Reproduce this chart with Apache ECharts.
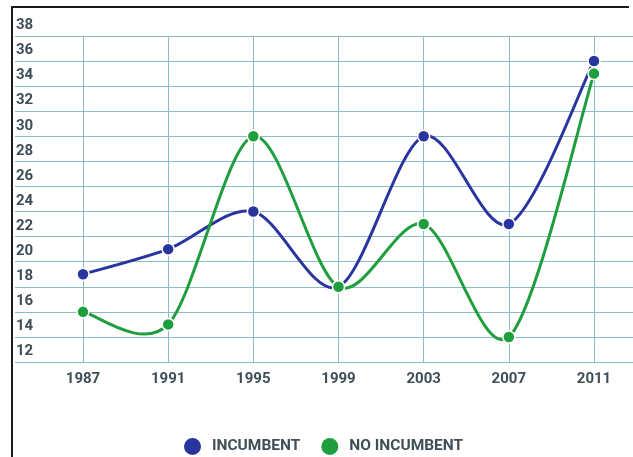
<!DOCTYPE html>
<html>
<head>
<meta charset="utf-8">
<script src="https://cdn.jsdelivr.net/npm/echarts@6/dist/echarts.min.js"></script>
<style>
html,body{margin:0;padding:0;background:#fff;}
#chart{width:633px;height:457px;}
</style>
</head>
<body>
<div id="chart"></div>
<script>
var years = ['1987', '1991', '1995', '1999', '2003', '2007', '2011'];
var incumbent = [19, 21, 24, 18, 30, 23, 36];
var noIncumbent = [16, 15, 30, 18, 23, 14, 35];
var yMin = 12, yMax = 38, yStep = 2;

var chart = echarts.init(document.getElementById('chart'), null, {renderer: 'canvas'});
var gridColor = '#8db9cc';
var textColor = '#3f4e57';
var blue = '#28359e';
var green = '#1f9e3e';

function curveSeries(name, values, color) {
  var n = values.length;
  return {
    name: name, type: 'custom', xAxisIndex: 1, yAxisIndex: 1, z: 2,
    data: values.map(function (v, i) { return [i, v]; }),
    renderItem: function (params, api) {
      var i = params.dataIndexInside;
      if (i >= n - 1) return null;
      function pt(k) {
        k = Math.max(0, Math.min(n - 1, k));
        return api.coord([api.value(0, k), api.value(1, k)]);
      }
      var p0 = pt(i - 1), p1 = pt(i), p2 = pt(i + 1), p3 = pt(i + 2);
      var t = 6.5;
      return {
        type: 'bezierCurve',
        shape: {
          x1: p1[0], y1: p1[1], x2: p2[0], y2: p2[1],
          cpx1: p1[0] + (p2[0] - p0[0]) / t, cpy1: p1[1] + (p2[1] - p0[1]) / t,
          cpx2: p2[0] - (p3[0] - p1[0]) / t, cpy2: p2[1] - (p3[1] - p1[1]) / t
        },
        style: {stroke: color, lineWidth: 3, fill: null}
      };
    }
  };
}

chart.setOption({
  backgroundColor: '#ffffff',
  animation: false,
  graphic: [
    {type: 'line', shape: {x1: 12, y1: 7, x2: 629, y2: 7}, style: {stroke: '#1a1a1a', lineWidth: 2}},
    {type: 'line', shape: {x1: 12, y1: 6, x2: 12, y2: 457}, style: {stroke: '#1a1a1a', lineWidth: 2}}
  ],
  grid: [
    {left: 15, right: 0, top: 36, bottom: 95},
    {left: 83, right: 39, top: 36, bottom: 95}
  ],
  legend: {
    left: 177, top: 431,
    icon: 'circle', itemWidth: 19, itemHeight: 19, itemGap: 19,
    textStyle: {fontFamily: 'Roboto', fontSize: 15.5, fontWeight: 'bold', color: textColor, padding: [0, 0, 0, 5]},
    data: ['INCUMBENT', 'NO INCUMBENT']
  },
  xAxis: [
    {gridIndex: 0, type: 'category', data: years, show: false},
    {gridIndex: 1, type: 'category', data: years, boundaryGap: false,
     axisLine: {show: false}, axisTick: {show: false},
     axisLabel: {fontFamily: 'Roboto', fontSize: 15, fontWeight: 'bold', color: textColor, margin: 10},
     splitLine: {show: true, lineStyle: {color: gridColor, width: 1}}}
  ],
  yAxis: [
    {gridIndex: 0, type: 'value', min: yMin, max: yMax, interval: yStep,
     axisLine: {show: false}, axisTick: {show: false},
     axisLabel: {inside: true, align: 'left', verticalAlign: 'bottom', margin: 1, padding: [0, 0, 3, 0],
                 fontFamily: 'Roboto', fontSize: 15, fontWeight: 'bold', color: textColor},
     splitLine: {show: true, lineStyle: {color: gridColor, width: 1}}},
    {gridIndex: 1, type: 'value', min: yMin, max: yMax, interval: yStep, show: false, splitLine: {show: false}}
  ],
  series: [
    {name: 'INCUMBENT', type: 'line', xAxisIndex: 1, yAxisIndex: 1, data: incumbent, z: 3,
     symbol: 'circle', symbolSize: 12, color: blue,
     lineStyle: {width: 0, color: blue},
     itemStyle: {color: blue, borderColor: '#ffffff', borderWidth: 1.5}},
    {name: 'NO INCUMBENT', type: 'line', xAxisIndex: 1, yAxisIndex: 1, data: noIncumbent, z: 3,
     symbol: 'circle', symbolSize: 12, color: green,
     lineStyle: {width: 0, color: green},
     itemStyle: {color: green, borderColor: '#ffffff', borderWidth: 1.5}},
    curveSeries('INCUMBENT', incumbent, blue),
    curveSeries('NO INCUMBENT', noIncumbent, green)
  ]
});
</script>
</body>
</html>
